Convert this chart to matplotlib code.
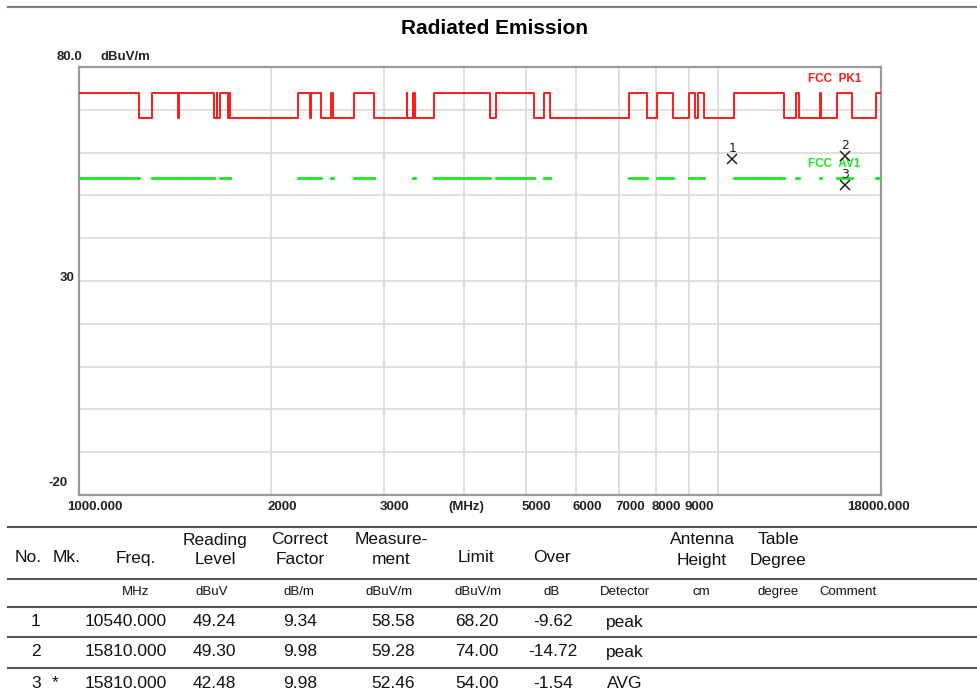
import numpy as np
import matplotlib.pyplot as plt
from matplotlib.transforms import offset_copy
from matplotlib.lines import Line2D

# restricted bands (MHz) seen as the raised parts of the limit line
bands = [(1000, 1240), (1300, 1427), (1435, 1626.5), (1645.5, 1646.5), (1660, 1710),
         (1718.8, 1722.2), (2200, 2300), (2310, 2390), (2483.5, 2500), (2690, 2900),
         (3260, 3267), (3332, 3339), (3345.8, 3358), (3600, 4400), (4500, 5150),
         (5350, 5460), (7250, 7750), (8025, 8500), (9000, 9200), (9300, 9500),
         (10600, 12700), (13250, 13400), (14470, 14500), (15350, 16200), (17700, 18000)]
pk_band = 74.0
pk_other = 68.2
av_band = 54.0

# marker table
mark_no = [1, 2, 3]
mark_mk = ["", "", "*"]
freq = [10540.000, 15810.000, 15810.000]
reading = [49.24, 49.30, 42.48]
correct = [9.34, 9.98, 9.98]
measure = [58.58, 59.28, 52.46]
limit = [68.20, 74.00, 54.00]
over = [-9.62, -14.72, -1.54]
detector = ["peak", "peak", "AVG"]

x_ticks = [2000, 3000, 5000, 6000, 7000, 8000, 9000]
f_lo, f_hi = 1000, 18000
y_lo, y_hi = -20, 80

W, H = 978, 697
fig = plt.figure(figsize=(W / 100, H / 100), dpi=100)
fx = lambda x: x / W
fy = lambda y: 1 - y / H

ax = fig.add_axes([fx(79), fy(495), 802 / W, 428 / H])

# peak limit as a step line
px, py = [], []
for a, b in bands:
    if a > f_lo:
        if not px:
            px.append(f_lo); py.append(pk_other)
        px.append(a); py.append(pk_other)
    px.append(a); py.append(pk_band)
    px.append(b); py.append(pk_band)
    if b < f_hi:
        px.append(b); py.append(pk_other)
if px[-1] < f_hi:
    px.append(f_hi); py.append(pk_other)
ax.plot(px, py, color="#ff1a1a", lw=1.4, zorder=3)

# average limit only inside the bands
gx, gy = [], []
for a, b in bands:
    gx += [a, b, np.nan]
    gy += [av_band, av_band, np.nan]
ax.plot(gx, gy, color="#1ee61e", lw=2.0, solid_capstyle="projecting", zorder=3)

# markers
ax.plot(freq, measure, "x", color="#222222", ms=7, mew=1.1, zorder=4)
for n, f, v in zip(mark_no, freq, measure):
    ax.annotate(str(n), (f, v), xytext=(0, 3), textcoords="offset points",
                ha="center", va="bottom", fontsize=9, family="DejaVu Sans", color="#222222")

ax.set_xscale("log")
ax.set_xlim(f_lo, f_hi)
ax.set_ylim(y_lo, y_hi)
ax.set_xticks(x_ticks + [4000, 10000])
ax.set_xticks([], minor=True)
ax.set_yticks(np.arange(-10, 80, 10))
ax.tick_params(which="both", length=0, labelbottom=False, labelleft=False)
ax.grid(True, color="#d9d9d9", lw=1.2)
for s in ax.spines.values():
    s.set_color("#9a9a9a")
    s.set_linewidth(1.6)

lab = dict(fontsize=9.5, fontweight="bold", family="Liberation Sans", color="#222222")
xt = ax.get_xaxis_transform()
ax.text(f_lo, 0, "1000.000", ha="center", va="center",
        transform=offset_copy(xt, fig=fig, x=16, y=-12, units="dots"), **lab)
for t in x_ticks:
    ax.text(t, 0, str(t), ha="left", va="center",
            transform=offset_copy(xt, fig=fig, x=-4, y=-12, units="dots"), **lab)
ax.text(f_hi, 0, "18000.000", ha="center", va="center",
        transform=offset_copy(xt, fig=fig, x=-3, y=-12, units="dots"), **lab)
ax.text(0.4825, -12 / 428, "(MHz)", ha="center", va="center", transform=ax.transAxes, **lab)

yt = ax.get_yaxis_transform()
ax.text(0, y_hi, "80.0", ha="right", va="center",
        transform=offset_copy(yt, fig=fig, x=3, y=10, units="dots"), **lab)
ax.text(0, y_hi, "dBuV/m", ha="center", va="center",
        transform=offset_copy(yt, fig=fig, x=46, y=10, units="dots"), **lab)
ax.text(0, 30, "30", ha="right", va="center",
        transform=offset_copy(yt, fig=fig, x=-4, y=3, units="dots"), **lab)
ax.text(0, y_lo, "-20", ha="right", va="center",
        transform=offset_copy(yt, fig=fig, x=-11, y=12, units="dots"), **lab)

ax.text(0.909, 77.2, "FCC  PK1", color="#ff1a1a", ha="left", va="center",
        transform=ax.get_yaxis_transform(), fontsize=8.5, fontweight="bold", family="Liberation Sans")
ax.text(0.909, 57.3, "FCC  AV1", color="#1ee61e", ha="left", va="center",
        transform=ax.get_yaxis_transform(), fontsize=8.5, fontweight="bold", family="Liberation Sans")

# title and top rule
fig.add_artist(Line2D([fx(8), 1], [fy(7), fy(7)], color="#808080", lw=1.6))
fig.text(fx(495), fy(28), "Radiated Emission", ha="center", va="center",
         fontsize=15, fontweight="bold", family="Liberation Sans")

# table
for y in [527, 579, 607, 637, 668]:
    fig.add_artist(Line2D([fx(8), 1], [fy(y), fy(y)], color="#555555", lw=1.5))

big = dict(fontsize=12.5, family="Liberation Sans", color="#111111", ha="center", va="center")
small = dict(fontsize=9.5, family="Liberation Sans", color="#111111", ha="center", va="center")

heads = [(28, "No."), (67, "Mk."), (136, "Freq."), (215, "Reading\nLevel"),
         (300, "Correct\nFactor"), (391, "Measure-\nment"), (476, "Limit"),
         (552, "Over"), (702, "Antenna\nHeight"), (778, "Table\nDegree")]
for x, t in heads:
    if "\n" in t:
        l1, l2 = t.split("\n")
        fig.text(fx(x), fy(540), l1, **big)
        fig.text(fx(x), fy(560), l2, **big)
    else:
        fig.text(fx(x), fy(558), t, **big)

units = [(136, "MHz"), (212, "dBuV"), (299, "dB/m"), (389, "dBuV/m"), (478, "dBuV/m"),
         (552, "dB"), (625, "Detector"), (701, "cm"), (778, "degree"), (848, "Comment")]
for x, t in units:
    fig.text(fx(x), fy(592), t, **small)

row_y = [622, 652, 683]
for i, y in enumerate(row_y):
    fig.text(fx(36), fy(y), str(mark_no[i]), **big)
    if mark_mk[i]:
        fig.text(fx(55), fy(y), mark_mk[i], **big)
    fig.text(fx(126), fy(y), "%.3f" % freq[i], **big)
    fig.text(fx(214), fy(y), "%.2f" % reading[i], **big)
    fig.text(fx(300), fy(y), "%.2f" % correct[i], **big)
    fig.text(fx(393), fy(y), "%.2f" % measure[i], **big)
    fig.text(fx(477), fy(y), "%.2f" % limit[i], **big)
    fig.text(fx(553), fy(y), "%.2f" % over[i], **big)
    fig.text(fx(625), fy(y), detector[i], **big)

fig.savefig("out.png", dpi=100)
